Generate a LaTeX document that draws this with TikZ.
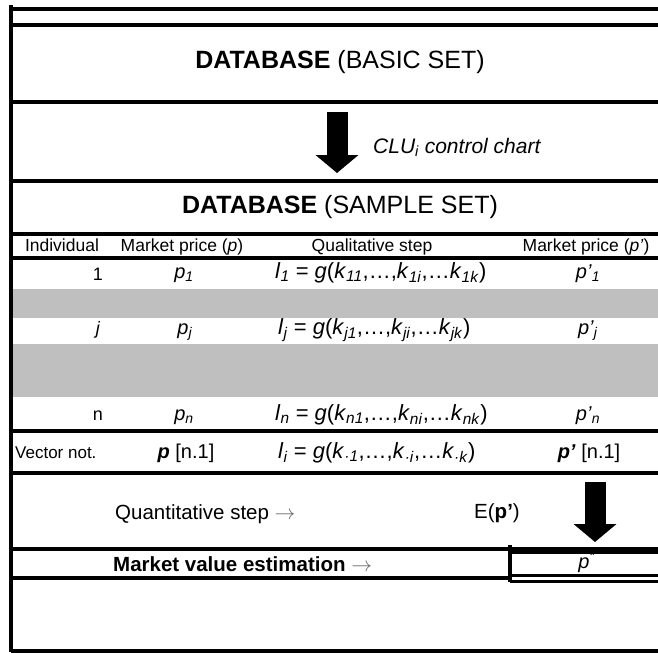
\documentclass[tikz,border=0pt]{standalone}
\usepackage{fontspec}
\setmainfont{Liberation Sans}
\usetikzlibrary{arrows.meta}
\newcommand{\ix}[1]{\textit{#1}}
\newcommand{\sbx}[1]{\textsubscript{\textit{#1}}}
\begin{document}
\begin{tikzpicture}[x=1pt,y=1pt,
  rule/.style={line width=3.3pt},
  band/.style={fill=black!25,draw=none},
  blockarrow/.style={line width=21pt,-{Triangle[width=42pt,length=18pt]}},
  txt/.style={inner sep=0pt,anchor=base},
  titletxt/.style={txt,font=\fontsize{25}{29}\selectfont},
  hdr/.style={txt,font=\fontsize{17.5}{20}\selectfont},
  cell/.style={txt,font=\fontsize{20}{23}\selectfont},
  idx/.style={txt,font=\fontsize{18}{21}\selectfont},
  formula/.style={txt,anchor=base west,font=\fontsize{22}{25}\selectfont},
  midtxt/.style={txt,font=\fontsize{20.5}{24}\selectfont},
  smalltxt/.style={txt,anchor=base west,font=\fontsize{17}{20}\selectfont}]
\useasboundingbox (0,0) rectangle (658,-653);
% gray bands
\fill[band] (11,-289) rectangle (658,-318);
\fill[band] (11,-344) rectangle (658,-397);
% table rules
\draw[rule] (11,-5) -- (11,-652);
\foreach \yy in {9,25,102,181,234,258,431,473,549} \draw[rule] (11,-\yy) -- (658,-\yy);
\draw[rule] (11,-578) -- (510,-578);
\draw[rule] (11,-651) -- (658,-651);
% estimation box
\draw[line width=3.5pt] (510,-545) -- (510,-582);
\draw[line width=6pt] (510,-551) -- (658,-551);
\draw[line width=2.8pt] (510,-575.5) -- (658,-575.5);
\draw[line width=2.8pt] (510,-581.5) -- (658,-581.5);
% block arrows
\coordinate (a1s) at (337,-112);
\coordinate (a1e) at (337,-173);
\draw[blockarrow] (a1s) -- (a1e);
\coordinate (a2s) at (595,-482);
\coordinate (a2e) at (595,-542);
\draw[blockarrow] (a2s) -- (a2e);
% titles
\node[titletxt] (basic) at (340,-68) {\textbf{DATABASE} (BASIC SET)};
\node[txt,anchor=base west,font=\fontsize{21}{24}\selectfont\itshape] (clu) at (373,-153) {CLU\textsubscript{i} control chart};
\node[titletxt] (sample) at (340,-213) {\textbf{DATABASE} (SAMPLE SET)};
% header
\node[hdr] (hind) at (62,-251) {Individual};
\node[hdr] (hmp) at (182,-251) {Market price (\ix{p})};
\node[hdr] (hqs) at (372,-251) {Qualitative step};
\node[hdr] (hmp2) at (586,-251) {Market price (\ix{p'})};
% row 1
\node[idx] (i1) at (98,-280) {1};
\node[cell] (p1) at (184,-278) {\ix{p}\sbx{1}};
\node[formula] (f1) at (275,-278) {\ix{l}\sbx{1} = \ix{g}(\ix{k}\sbx{11},…,\ix{k}\sbx{1i},…\ix{k}\sbx{1k})};
\node[cell] (q1) at (588,-278) {\ix{p'}\sbx{1}};
% row j
\node[idx] (ij) at (98,-334) {\ix{j}};
\node[cell] (pj) at (185,-334) {\ix{p}\sbx{j}};
\node[formula] (fj) at (278,-334) {\ix{l}\sbx{j} = \ix{g}(\ix{k}\sbx{j1},…,\ix{k}\sbx{ji},…\ix{k}\sbx{jk})};
\node[cell] (qj) at (588,-334) {\ix{p'}\sbx{j}};
% row n
\node[idx] (in) at (98,-420) {n};
\node[cell] (pn) at (184,-420) {\ix{p}\sbx{n}};
\node[formula] (fn) at (275,-420) {\ix{l}\sbx{n} = \ix{g}(\ix{k}\sbx{n1},…,\ix{k}\sbx{ni},…\ix{k}\sbx{nk})};
\node[cell] (qn) at (588,-420) {\ix{p'}\sbx{n}};
% vector row
\node[smalltxt] (vn) at (15,-458) {Vector not.};
\node[cell] (pv) at (186,-458) {\textbf{\ix{p}} [n.1]};
\node[formula] (fv) at (278,-458) {\ix{l}\sbx{i} = \ix{g}(\ix{k}\sbx{·1},…,\ix{k}\sbx{·i},…\ix{k}\sbx{·k})};
\node[cell] (qv) at (589,-458) {\textbf{\ix{p'}} [n.1]};
% quantitative step
\node[midtxt,anchor=base west] (qs) at (115,-519) {Quantitative step \textcolor{black!60}{$\rightarrow$}};
\node[midtxt] (ep) at (497,-518) {E(\textbf{p'})};
% estimation
\node[midtxt,anchor=base west] (mv) at (113,-571) {\textbf{Market value estimation} \textcolor{black!60}{$\rightarrow$}};
\node[cell] (ph) at (587,-568) {\ix{p}\textsuperscript{*}};
\end{tikzpicture}
\end{document}
